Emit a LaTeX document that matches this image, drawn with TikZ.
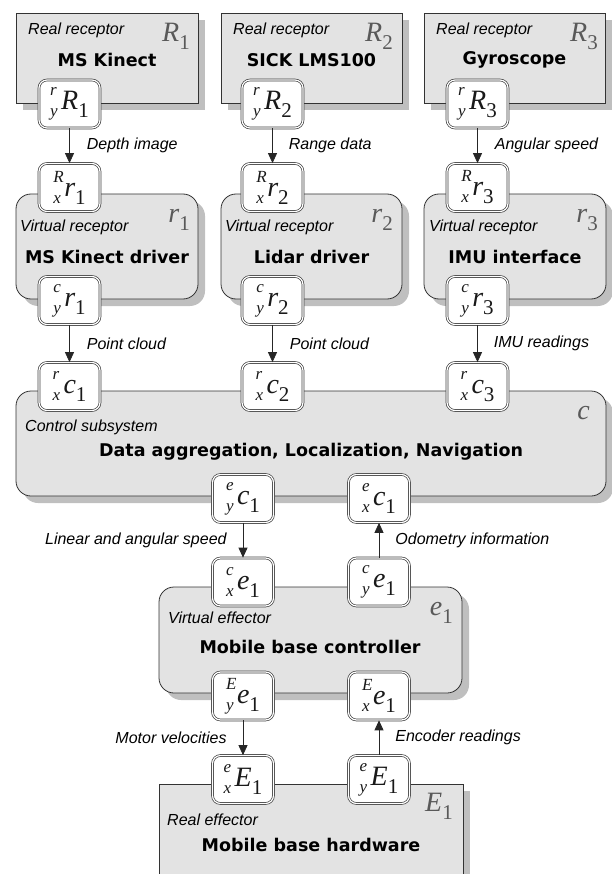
\documentclass[tikz,border=0pt]{standalone}
\usepackage{fontspec}
\usetikzlibrary{arrows.meta,shadows}
\newfontfamily\tms{Liberation Serif}
\newfontfamily\ttl{DejaVu Sans}
\newfontfamily\lab{Liberation Sans}
\newcommand{\pp}[4]{{\tms\itshape\fontsize{17}{17}\selectfont\makebox[11pt][l]{\rlap{\raisebox{14pt}{#1}}\raisebox{-7pt}{#2}}}{\tms\itshape\fontsize{28}{28}\selectfont #3}{\tms\fontsize{21}{21}\selectfont\raisebox{-8pt}{#4}}}
\newcommand{\cs}[2]{{\tms\itshape\fontsize{28}{28}\selectfont #1}{\tms\fontsize{21}{21}\selectfont\raisebox{-8pt}{#2}}}
\tikzset{
  port/.style={draw=black!75, double=white, double distance=1.2pt, line width=0.7pt, fill=white, rounded corners=8pt, minimum width=61pt, minimum height=48pt, inner sep=0pt, text=black!90},
  box/.style={draw=black!80, fill=black!11, line width=0.8pt, inner sep=0pt, drop shadow={shadow xshift=7pt, shadow yshift=-7pt, fill=black!25, opacity=1}},
  rbox/.style={box, rounded corners=15pt},
  lbl/.style={font=\lab\itshape\fontsize{16}{16}\selectfont, inner sep=0pt, text=black},
  ttlf/.style={font=\ttl\bfseries\fontsize{17.5}{17.5}\selectfont, inner sep=0pt, text=black},
  corner/.style={inner sep=0pt, text=black!65, anchor=east},
  arr/.style={draw=black!85, line width=0.8pt, -{Triangle[length=10pt,width=9pt]}},
}
\begin{document}
\begin{tikzpicture}[x=1pt,y=-1pt]
\useasboundingbox (0,0) rectangle (611,874);
% boxes
\node[box, minimum width=182pt, minimum height=90pt] (R1) at (107,58) {};
\node[box, minimum width=181pt, minimum height=90pt] (R2) at (311.5,58) {};
\node[box, minimum width=181pt, minimum height=90pt] (R3) at (514.5,58) {};
\node[rbox, minimum width=182pt, minimum height=105pt] (r1) at (107,246.5) {};
\node[rbox, minimum width=181pt, minimum height=105pt] (r2) at (311.5,246.5) {};
\node[rbox, minimum width=182pt, minimum height=105pt] (r3) at (515,246.5) {};
\node[rbox, minimum width=590pt, minimum height=105pt] (c) at (311,443.5) {};
\node[rbox, minimum width=303pt, minimum height=106pt] (e1) at (310.5,640) {};
\node[box, minimum width=304pt, minimum height=116pt] (E1) at (311,842) {};
% box texts
\node[lbl, anchor=west] (tR1) at (28,30) {Real receptor};
\node[lbl, anchor=west] (tR2) at (233,30) {Real receptor};
\node[lbl, anchor=west] (tR3) at (436,30) {Real receptor};
\node[ttlf] (nR1) at (107,60) {MS Kinect};
\node[ttlf] (nR2) at (311.5,60) {SICK LMS100};
\node[ttlf] (nR3) at (514.5,60) {Gyroscope};
\node[corner] (sR1) at (190,36) {\cs{R}{1}};
\node[corner] (sR2) at (393,36) {\cs{R}{2}};
\node[corner] (sR3) at (598,36) {\cs{R}{3}};
\node[lbl, anchor=west] (tr1) at (20,227) {Virtual receptor};
\node[lbl, anchor=west] (tr2) at (225,227) {Virtual receptor};
\node[lbl, anchor=west] (tr3) at (429,227) {Virtual receptor};
\node[ttlf] (nr1) at (107,257) {MS Kinect driver};
\node[ttlf] (nr2) at (311.5,257) {Lidar driver};
\node[ttlf] (nr3) at (515,257) {IMU interface};
\node[corner] (sr1) at (190,220) {\cs{r}{1}};
\node[corner] (sr2) at (393,220) {\cs{r}{2}};
\node[corner] (sr3) at (598,220) {\cs{r}{3}};
\node[lbl, anchor=west] (tc) at (25,427) {Control subsystem};
\node[ttlf] (nc) at (311,452) {Data aggregation, Localization, Navigation};
\node[corner] (sc) at (590,413) {{\tms\itshape\fontsize{28}{28}\selectfont c}};
\node[lbl, anchor=west] (te1) at (168,618) {Virtual effector};
\node[ttlf] (ne1) at (310,647) {Mobile base controller};
\node[corner] (se1) at (453,613) {\cs{e}{1}};
\node[lbl, anchor=west] (tE1) at (167,820) {Real effector};
\node[ttlf] (nE1) at (311,845) {Mobile base hardware};
\node[corner] (sE1) at (453,806) {\cs{E}{1}};
% ports
\node[port] (pR1) at (69.5,104) {\pp{r}{y}{R}{1}};
\node[port] (pR2) at (272.5,104) {\pp{r}{y}{R}{2}};
\node[port] (pR3) at (477.5,104) {\pp{r}{y}{R}{3}};
\node[port] (pRr1) at (69.5,187.5) {\pp{R}{x}{r}{1}};
\node[port] (pRr2) at (272.5,187.5) {\pp{R}{x}{r}{2}};
\node[port] (pRr3) at (477.5,187.5) {\pp{R}{x}{r}{3}};
\node[port] (pcr1) at (69.5,300.5) {\pp{c}{y}{r}{1}};
\node[port] (pcr2) at (272.5,300.5) {\pp{c}{y}{r}{2}};
\node[port] (pcr3) at (477.5,300.5) {\pp{c}{y}{r}{3}};
\node[port] (prc1) at (69.5,386.5) {\pp{r}{x}{c}{1}};
\node[port] (prc2) at (272.5,386.5) {\pp{r}{x}{c}{2}};
\node[port] (prc3) at (477.5,386.5) {\pp{r}{x}{c}{3}};
\node[port] (pec1) at (243,498.5) {\pp{e}{y}{c}{1}};
\node[port] (pexc1) at (379,498.5) {\pp{e}{x}{c}{1}};
\node[port] (pce1) at (243,582) {\pp{c}{x}{e}{1}};
\node[port] (pcye1) at (379,582) {\pp{c}{y}{e}{1}};
\node[port] (pEe1) at (243,696) {\pp{E}{y}{e}{1}};
\node[port] (pExe1) at (379,696) {\pp{E}{x}{e}{1}};
\node[port] (peE1) at (243,779.5) {\pp{e}{x}{E}{1}};
\node[port] (peyE1) at (379,779.5) {\pp{e}{y}{E}{1}};
% connectors
\draw[arr] (pR1.south) -- node[lbl, anchor=west, xshift=17pt] {Depth image} (pRr1.north);
\draw[arr] (pR2.south) -- node[lbl, anchor=west, xshift=16pt] {Range data} (pRr2.north);
\draw[arr] (pR3.south) -- node[lbl, anchor=west, xshift=17pt] {Angular speed} (pRr3.north);
\draw[arr] (pcr1.south) -- node[lbl, anchor=west, xshift=17pt] {Point cloud} (prc1.north);
\draw[arr] (pcr2.south) -- node[lbl, anchor=west, xshift=17pt] {Point cloud} (prc2.north);
\draw[arr] (pcr3.south) -- node[lbl, anchor=west, xshift=16pt] {IMU readings} (prc3.north);
\draw[arr] (pec1.south) -- node[lbl, anchor=east, xshift=-16pt] {Linear and angular speed} (pce1.north);
\draw[arr] (pcye1.north) -- node[lbl, anchor=west, xshift=16pt] {Odometry information} (pexc1.south);
\draw[arr] (pEe1.south) -- node[lbl, anchor=east, xshift=-16pt] {Motor velocities} (peE1.north);
\draw[arr] (peyE1.north) -- node[lbl, anchor=west, xshift=16pt] {Encoder readings} (pExe1.south);
\end{tikzpicture}
\end{document}
